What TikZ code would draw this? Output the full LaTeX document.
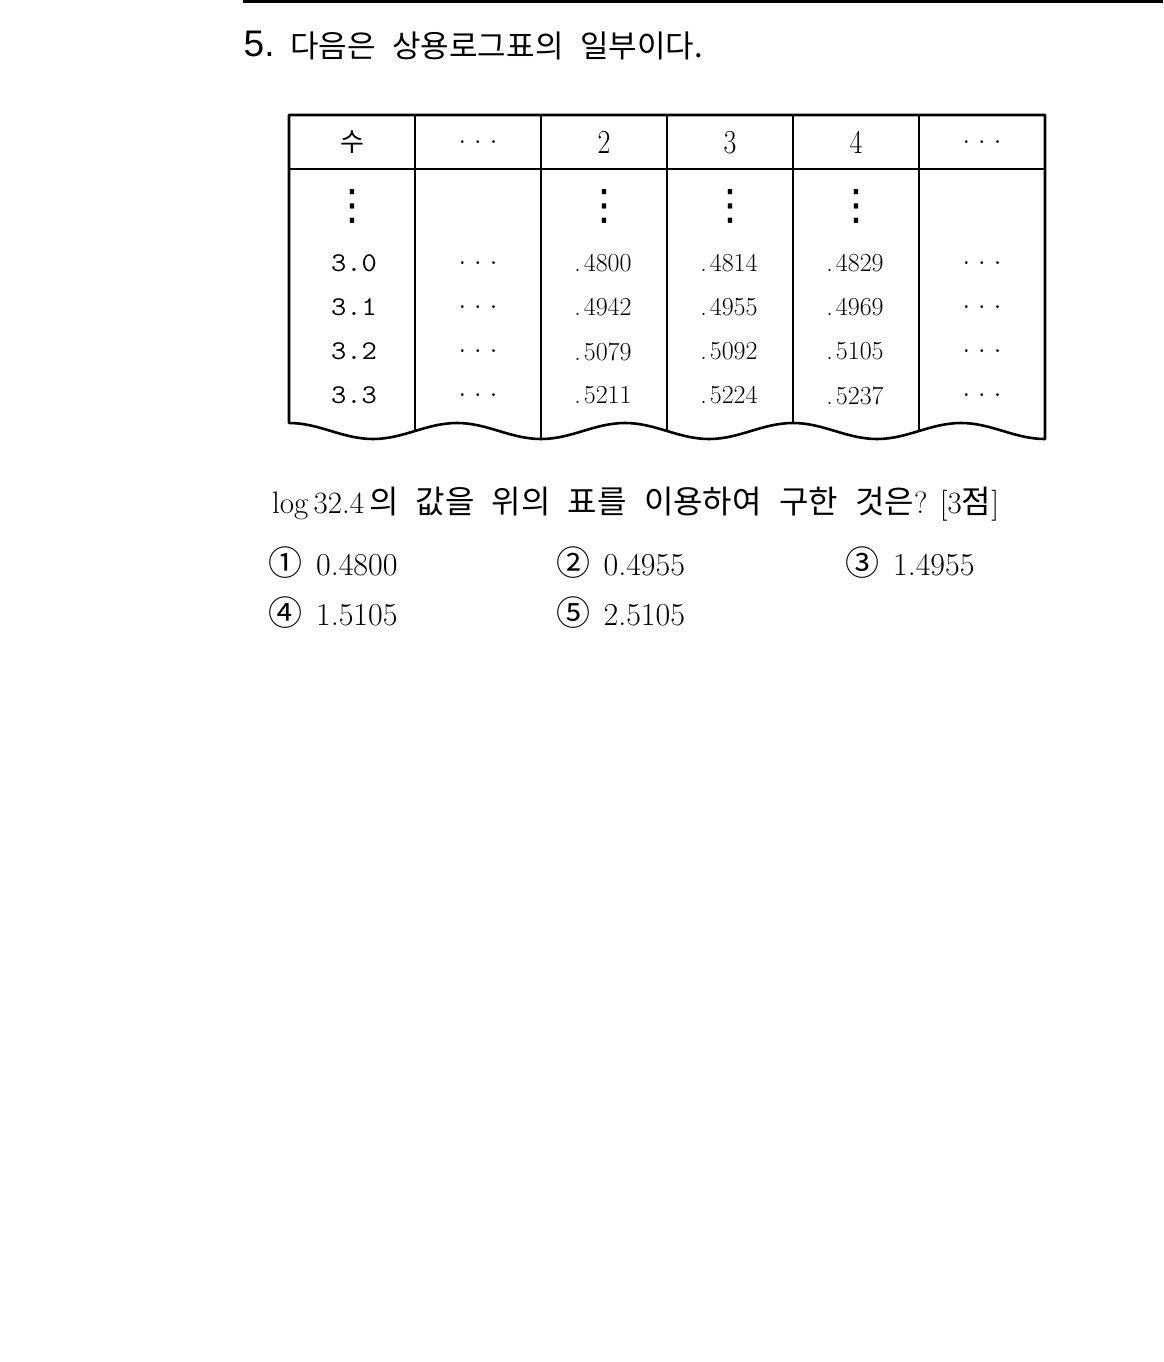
\documentclass[tikz,border=0pt]{standalone}
\usepackage{fontspec}
\usepackage{graphicx}
\usetikzlibrary{positioning}
\newfontfamily\krfont[WordSpace=2.4]{Noto Sans CJK KR}
\newfontfamily\numsans{Liberation Sans}
\newfontfamily\symfont{DejaVu Sans}
\tikzstyle{outer}=[line width=2.6pt, line join=round]
\tikzstyle{inner}=[line width=1.2pt]
\tikzstyle{cell}=[inner sep=0pt, font=\fontsize{26}{30}\selectfont]
\tikzstyle{krtext}=[inner sep=0pt, anchor=base west, font=\krfont\fontsize{32}{36}\selectfont]
\tikzstyle{lmtext}=[inner sep=0pt, anchor=base west, font=\fontsize{32}{36}\selectfont]
\newcommand\tallnum[1]{{\fontsize{28}{30}\selectfont\scalebox{1}[1.2]{#1}}}
\newcommand\widenum[1]{\scalebox{1.1}[1]{#1}}
\newcommand\rowdots{{\fontsize{34}{34}\selectfont.\hspace{7.2pt}.\hspace{7.2pt}.}}
\newcommand\lm[1]{{\rmfamily\fontsize{31}{36}\selectfont#1}}

\begin{document}
\begin{tikzpicture}[x=1pt,y=-1pt]
  \useasboundingbox (0,0) rectangle (1163,1362);
  % rule at the top of the page
  \coordinate (ruleL) at (243,1.3);
  \coordinate (ruleR) at (1163,1.3);
  \draw[line width=2.6pt] (ruleL) -- (ruleR);

  % question number and heading
  \node[lmtext, font=\numsans\fontsize{37}{40}\selectfont] (qnum) at (243.5,57) {5.};
  \node[krtext, font=\krfont\fontsize{31}{36}\selectfont] (head) at (290,58) {다음은 상용로그표의 일부이다.};

  % table frame, the lower edge torn off
  \draw[outer] (289,115) -- (289,423)
    \foreach \k in {1,...,4} { cos ++(42,8) sin ++(42,8) cos ++(42,-8) sin ++(42,-8) }
    cos ++(42,8) sin ++(42,8) -- (1045,115) -- cycle;
  \draw[outer] (289,169) -- (1045,169);
  \draw[outer] (415,115) -- (415,431);
  \foreach \x/\yb in {541/439, 667/431, 793/423, 919/431}
    \draw[inner] (\x,115) -- (\x,\yb);

  % header row
  \foreach \x/\name/\label in {352/hsu/{\krfont 수}, 478/hdl/{\rowdots}, 604/htwo/{\tallnum{2}},
      730/hthree/{\tallnum{3}}, 856/hfour/{\tallnum{4}}, 982/hdr/{\rowdots}}
    \node[cell] (\name) at (\x,142.5) {\label};

  % vertical dots
  \foreach \x in {352,604,730,856}
    \node[cell, font=\symfont\fontsize{42}{44}\selectfont] (vd\x) at (\x,206.7) {⋮};

  % rows of the table
  \foreach \row/\y/\a/\b/\c in {0/263.5/4800/4814/4829, 1/307.5/4942/4955/4969,
      2/351.5/5079/5092/5105, 3/395.5/5211/5224/5237} {
    \node[cell, font=\ttfamily\fontsize{27}{30}\selectfont] (n\row) at (354,\y) {\widenum{3.\row}};
    \node[cell] (l\row) at (478,\y) {\rowdots};
    \node[cell] (a\row) at (603,\y) {.\hspace{3pt}\a};
    \node[cell] (b\row) at (729,\y) {.\hspace{3pt}\b};
    \node[cell] (c\row) at (855,\y) {.\hspace{3pt}\c};
    \node[cell] (r\row) at (982,\y) {\rowdots};
  }

  % question and choices
  \node[krtext] (ask) at (272,513) {\lm{log\,32.4\,}의 값을 위의 표를 이용하여 구한 것은\lm{? [3}점\lm{]}};
  \foreach \n/\mark/\val/\x/\y in {1/①/0.4800/268.5/575, 2/②/0.4955/556/575, 3/③/1.4955/845.5/575,
      4/④/1.5105/268.5/625, 5/⑤/2.5105/556/625} {
    \node[krtext, font=\krfont\fontsize{34}{36}\selectfont] (ch\n) at (\x,\y) {\mark};
    \node[lmtext, right=13pt of ch\n.base east, anchor=base west] (val\n) {\val};
  }
\end{tikzpicture}
\end{document}
